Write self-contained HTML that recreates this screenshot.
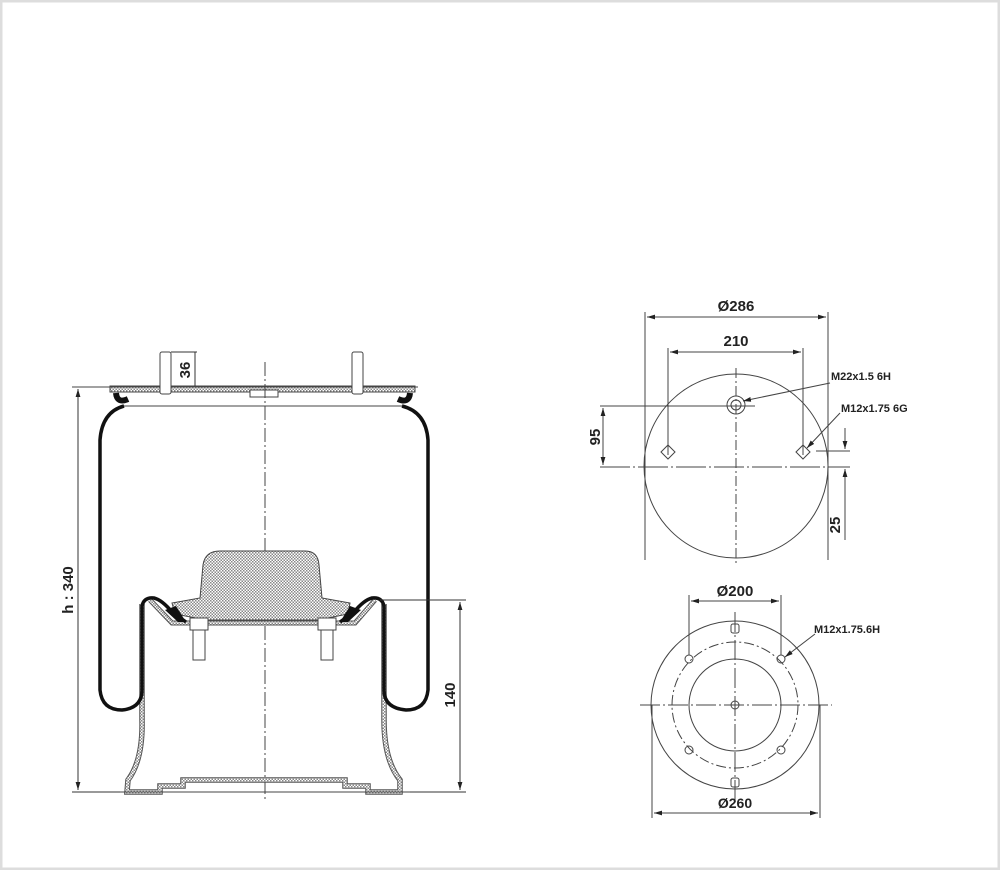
<!DOCTYPE html>
<html><head><meta charset="utf-8"><style>
html,body{margin:0;padding:0;background:#fff}
svg{display:block}
text{font-family:"Liberation Sans",Arial,sans-serif;font-weight:bold;fill:#222}
</style></head><body>
<svg width="1000" height="870" viewBox="0 0 1000 870" xmlns="http://www.w3.org/2000/svg">
<defs>
<pattern id="h" width="3" height="3" patternUnits="userSpaceOnUse"><rect width="3" height="3" fill="#fff"/><rect width="1.5" height="1.5" fill="#888"/><rect x="1.5" y="1.5" width="1.5" height="1.5" fill="#888"/></pattern>
<marker id="a" viewBox="0 0 10 6" refX="10" refY="3" markerWidth="8" markerHeight="5" orient="auto-start-reverse"><path d="M0,0L10,3L0,6z" fill="#222"/></marker>
</defs>
<rect x="1" y="1" width="998" height="868" fill="#fff" stroke="#ddd" stroke-width="3"/>
<g fill="none" stroke="#444" stroke-width="1">
<rect x="110" y="386" width="305" height="6" fill="url(#h)"/>
<line x1="72" y1="387" x2="418" y2="387"/>
<line x1="122" y1="406" x2="402" y2="406"/>
<rect x="250" y="390" width="28" height="7" fill="#fff"/>
<rect x="160" y="352" width="11" height="42" fill="#fff" rx="2"/>
<rect x="352" y="352" width="11" height="42" fill="#fff" rx="2"/>
<line x1="265" y1="362" x2="265" y2="800" stroke-dasharray="14,3,2,3"/>
<path d="M142,604 L142,720 Q143,760 128,780 L127,792 L160,792 L160,786 L183,786 L183,780 L345,780 L345,786 L368,786 L368,792 L400,792 L400,780 Q384,760 384,720 L384,604" stroke="#555" stroke-width="5.5"/>
<path d="M142,604 L142,720 Q143,760 128,780 L127,792 L160,792 L160,786 L183,786 L183,780 L345,780 L345,786 L368,786 L368,792 L400,792 L400,780 Q384,760 384,720 L384,604" stroke="url(#h)" stroke-width="3.5"/>
<line x1="120" y1="792" x2="410" y2="792"/>
<path d="M206,620 L175,614 L172,603 L200,598 L203,565 Q205,551 220,551 L305,551 Q318,551 319,565 L322,598 L350,603 L348,614 L318,620 Z" fill="url(#h)"/>
<path d="M150,600 L172,623 L355,623 L375,600" stroke="#555" stroke-width="5"/>
<path d="M150,600 L172,623 L355,623 L375,600" stroke="url(#h)" stroke-width="3"/>
<rect x="190" y="618" width="18" height="12" fill="#fff"/><rect x="193" y="630" width="12" height="30" fill="#fff"/>
<rect x="318" y="618" width="18" height="12" fill="#fff"/><rect x="321" y="630" width="12" height="30" fill="#fff"/>
</g>
<path d="M124,406 Q102,412 100,440 L100,690 Q102,710 122,710 Q142,708 142,690 L142,606 Q144,597 154,598 Q162,600 172,612 L186,622" fill="none" stroke="#111" stroke-width="3.5"/>
<path d="M402,406 Q426,412 428,440 L428,690 Q426,710 406,710 Q384,708 384,690 L384,606 Q382,597 372,598 Q364,600 354,612 L340,622" fill="none" stroke="#111" stroke-width="3.5"/>
<path d="M165,610 L178,622 L186,622 L176,606Z" fill="#111"/>
<path d="M361,610 L348,622 L340,622 L350,606Z" fill="#111"/>
<path d="M116,393 Q117,404 128,399" stroke="#111" stroke-width="6" fill="none"/>
<path d="M410,393 Q409,404 398,399" stroke="#111" stroke-width="6" fill="none"/>
<g stroke="#333" stroke-width="1" fill="none">
<line x1="78" y1="389" x2="78" y2="790" marker-start="url(#a)" marker-end="url(#a)"/>
<line x1="72" y1="792" x2="120" y2="792"/>
<line x1="380" y1="600" x2="466" y2="600"/>
<line x1="410" y1="792" x2="466" y2="792"/>
<line x1="460" y1="602" x2="460" y2="790" marker-start="url(#a)" marker-end="url(#a)"/>
<line x1="195" y1="352" x2="195" y2="386"/>
<line x1="171" y1="352" x2="197" y2="352"/>
</g>
<text transform="translate(73,590) rotate(-90)" font-size="15" text-anchor="middle">h : 340</text>
<text transform="translate(455,695) rotate(-90)" font-size="15" text-anchor="middle">140</text>
<text transform="translate(190,370) rotate(-90)" font-size="15" text-anchor="middle">36</text>
<g stroke="#444" stroke-width="1" fill="none">
<circle cx="736" cy="466" r="92"/>
<line x1="736" y1="368" x2="736" y2="565" stroke-dasharray="10,3,2,3"/>
<line x1="600" y1="467" x2="850" y2="467" stroke-dasharray="30,3,2,3"/>
<line x1="600" y1="406" x2="755" y2="406"/>
<line x1="603" y1="408" x2="603" y2="465" marker-start="url(#a)" marker-end="url(#a)"/>
<circle cx="736" cy="405" r="9"/><circle cx="736" cy="405" r="5"/>
<line x1="645" y1="312" x2="645" y2="560"/><line x1="828" y1="312" x2="828" y2="560"/>
<line x1="647" y1="317" x2="826" y2="317" marker-start="url(#a)" marker-end="url(#a)"/>
<line x1="668" y1="348" x2="668" y2="455"/><line x1="803" y1="348" x2="803" y2="455"/>
<line x1="670" y1="352" x2="801" y2="352" marker-start="url(#a)" marker-end="url(#a)"/>
<path d="M661,452 L668,445 L675,452 L668,459Z"/><path d="M796,452 L803,445 L810,452 L803,459Z"/>
<line x1="816" y1="451" x2="850" y2="451"/>
<line x1="845" y1="428" x2="845" y2="449" marker-end="url(#a)"/>
<line x1="845" y1="540" x2="845" y2="469" marker-end="url(#a)"/>
<line x1="830" y1="383" x2="743" y2="401" marker-end="url(#a)"/>
<line x1="840" y1="413" x2="807" y2="448" marker-end="url(#a)"/>
</g>
<text x="736" y="311" font-size="15" text-anchor="middle">Ø286</text>
<text x="736" y="346" font-size="15" text-anchor="middle">210</text>
<text x="831" y="380" font-size="11">M22x1.5 6H</text>
<text x="841" y="412" font-size="11">M12x1.75 6G</text>
<text transform="translate(600,437) rotate(-90)" font-size="15" text-anchor="middle">95</text>
<text transform="translate(840,525) rotate(-90)" font-size="15" text-anchor="middle">25</text>
<g stroke="#444" stroke-width="1" fill="none">
<circle cx="735" cy="705" r="84"/>
<circle cx="735" cy="705" r="63" stroke-dasharray="10,3,2,3"/>
<circle cx="735" cy="705" r="46"/>
<line x1="640" y1="705" x2="832" y2="705" stroke-dasharray="20,3,2,3"/>
<line x1="735" y1="612" x2="735" y2="800" stroke-dasharray="20,3,2,3"/>
<circle cx="735" cy="705" r="4"/>
<circle cx="689" cy="659" r="4"/><circle cx="781" cy="659" r="4"/><circle cx="689" cy="750" r="4"/><circle cx="781" cy="750" r="4"/>
<rect x="731" y="624" width="8" height="9" rx="2"/><rect x="731" y="778" width="8" height="9" rx="2"/>
<line x1="689" y1="595" x2="689" y2="655"/><line x1="781" y1="595" x2="781" y2="655"/>
<line x1="691" y1="601" x2="779" y2="601" marker-start="url(#a)" marker-end="url(#a)"/>
<line x1="652" y1="705" x2="652" y2="818"/><line x1="820" y1="705" x2="820" y2="818"/>
<line x1="654" y1="813" x2="818" y2="813" marker-start="url(#a)" marker-end="url(#a)"/>
<line x1="815" y1="634" x2="785" y2="657" marker-end="url(#a)"/>
</g>
<text x="735" y="596" font-size="15" text-anchor="middle">Ø200</text>
<text x="735" y="808" font-size="14" text-anchor="middle">Ø260</text>
<text x="814" y="633" font-size="11">M12x1.75.6H</text>
</svg>
</body></html>
